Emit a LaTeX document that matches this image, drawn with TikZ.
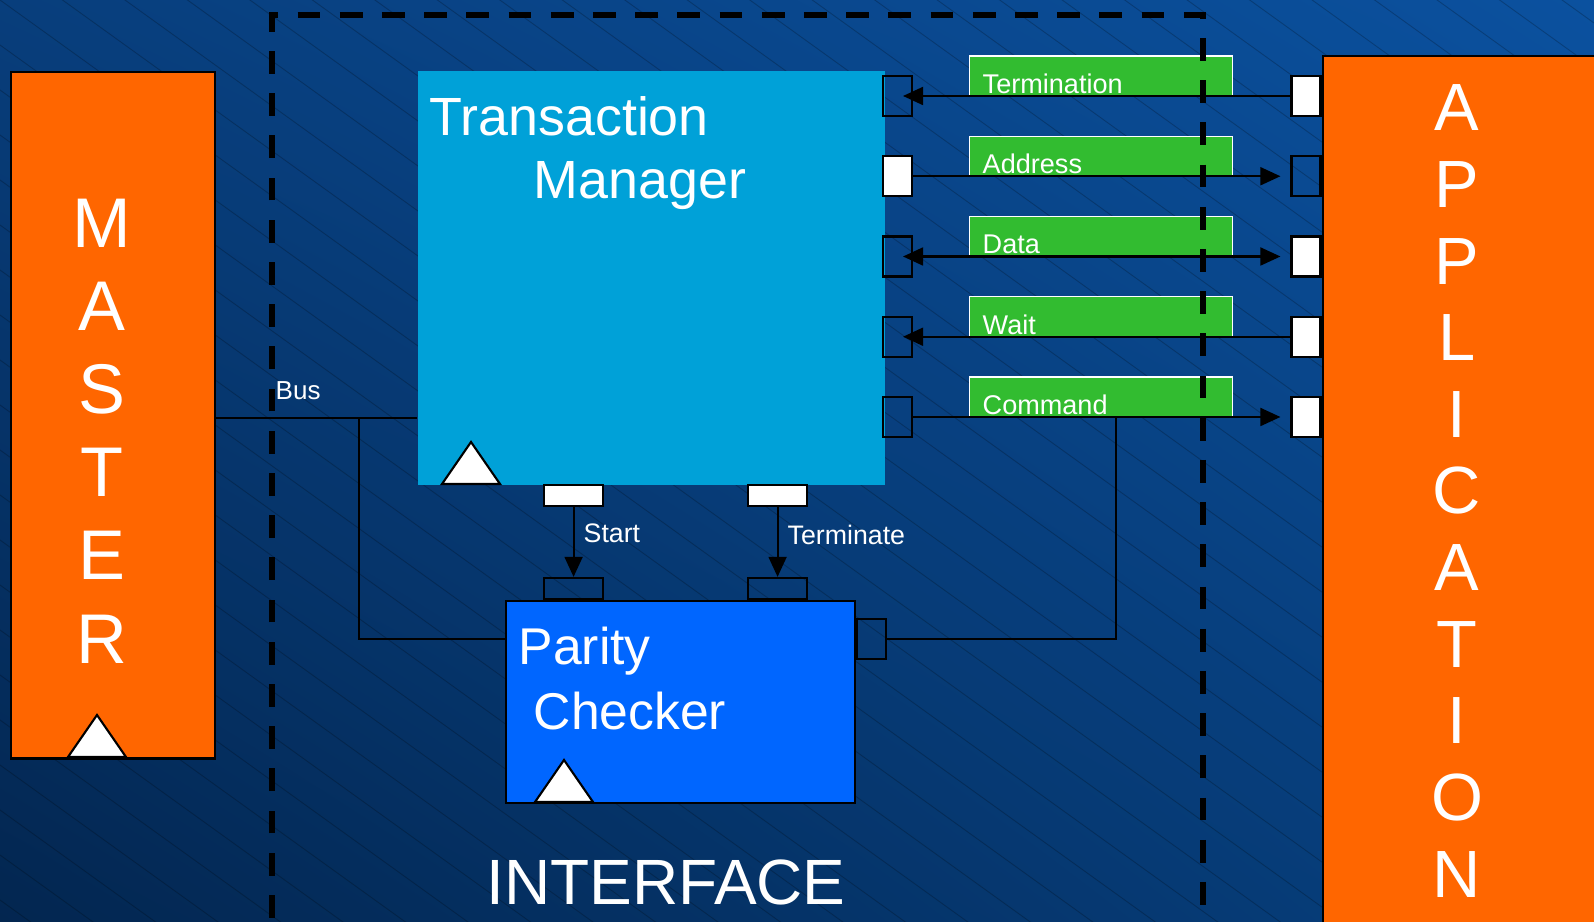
\documentclass[tikz,border=0pt]{standalone}
\usepackage{fontspec}
\setmainfont{Liberation Sans}
\usetikzlibrary{arrows.meta,positioning,shadings}
\definecolor{bgtl}{RGB}{8,62,124}
\definecolor{bgtr}{RGB}{11,81,159}
\definecolor{bgbl}{RGB}{3,38,80}
\definecolor{bgbr}{RGB}{7,64,127}
\definecolor{sideorange}{RGB}{255,102,0}
\definecolor{tmblue}{RGB}{0,161,216}
\definecolor{pcblue}{RGB}{0,102,255}
\definecolor{siggreen}{RGB}{50,188,48}
\tikzset{
  block/.style={inner sep=0pt, line width=0.6pt},
  port/.style={draw=black, line width=0.6pt, inner sep=0pt, minimum width=0.29cm, minimum height=0.40cm},
  hport/.style={port, minimum width=0.59cm, minimum height=0.21cm},
  siglabel/.style={fill=siggreen, draw=white, line width=0.3pt, inner sep=0pt, minimum width=2.62cm, minimum height=0.40cm},
  wtext/.style={text=white, inner sep=0pt},
  wire/.style={line width=0.6pt},
  sigarrow/.style={-{Triangle[length=5.7pt,width=5.1pt]}},
  tri/.style={fill=white, draw=black, line width=0.6pt},
  hatch/.style={black, opacity=0.22, line width=0.25pt},
  ifbox/.style={line width=1.7pt, dash pattern=on 6.5pt off 5.5pt}
}

\begin{document}
\begin{tikzpicture}[x=0.01cm, y=-0.01cm]
\useasboundingbox (0,0) rectangle (1594,922);
\clip (0,0) rectangle (1594,922);

% Background
\shade[upper left=bgtl, upper right=bgtr, lower left=bgbl, lower right=bgbr] (0cm,0cm) rectangle (15.94cm,-9.22cm);
\foreach \s in {-1170,-1125,...,930}
  \draw[hatch] (0,\s) -- (1594,\s+1148);

% Master
\node[block, draw=black, fill=sideorange, minimum width=2.04cm, minimum height=6.86cm, anchor=north west] (master) at (10,71) {};
\foreach \ch [count=\i from 0] in {M,A,S,T,E,R}
  \node[wtext, font=\fontsize{20}{24}\selectfont, anchor=base] (m\i) at (102,248+83*\i) {\ch};

% Application
\node[block, draw=black, fill=sideorange, minimum width=3.2cm, minimum height=9.2cm, anchor=north west] (app) at (1322,55) {};
\foreach \ch [count=\i from 0] in {A,P,P,L,I,C,A,T,I,O,N}
  \node[wtext, font=\fontsize{19}{23}\selectfont, anchor=base] (a\i) at (1457,131+76.6*\i) {\ch};

% Transaction manager
\node[block, fill=tmblue, minimum width=4.67cm, minimum height=4.14cm, anchor=north west] (tm) at (417,70) {};
\node[wtext, font=\fontsize{15.3}{18}\selectfont, anchor=base west] (tmtop) at (429,136) {Transaction};
\node[wtext, font=\fontsize{15.3}{18}\selectfont, anchor=base west] (tmbot) at (533,199) {Manager};

% Parity checker
\node[block, draw=black, fill=pcblue, minimum width=3.49cm, minimum height=2.02cm, anchor=north west] (pc) at (505,600) {};
\node[wtext, font=\fontsize{14.7}{17}\selectfont, anchor=base west] (pctop) at (518,665) {Parity};
\node[wtext, font=\fontsize{14.7}{17}\selectfont, anchor=base west] (pcbot) at (533,729) {Checker};

% Ports between the two blocks
\node[hport, fill=white, anchor=north west] (startout) at (543,484) {};
\node[hport, fill=white, anchor=north west] (termout) at (747,484) {};
\node[hport, anchor=south west] (startin) at (543,600) {};
\node[hport, anchor=south west] (termin) at (747,600) {};
\node[port, anchor=west] (pcport) at (pc.east |- 0,639) {};

% Signal rows
\foreach \nm/\lf/\rf/\txt [count=\i from 0] in {term/none/white/Termination, addr/white/none/Address, data/none/white/Data, wait/none/white/Wait, cmd/none/white/Command} {
  \node[port, fill=\lf] (\nm-l) at (897.5,96+80.25*\i) {};
  \node[port, fill=\rf] (\nm-r) at (1306,96+80.25*\i) {};
  \node[siglabel] (\nm-lab) at (1101,76+80.25*\i) {};
  \node[wtext, font=\fontsize{7.7}{9}\selectfont, anchor=base west] (\nm-txt) at (982,93.5+80.25*\i) {\txt};
}

% Interface boundary
\draw[ifbox] (272,960) -- (272,15) -- (1203,15) -- (1203,960);
\node[wtext, font=\fontsize{18.2}{22}\selectfont, anchor=base] (iftxt) at (666,904) {INTERFACE};

% Signal wires
\draw[wire, sigarrow, shorten >=0.55mm] (term-r.west) -- (term-l.center);
\draw[wire, sigarrow, shorten >=1mm] (addr-l.east) -- (addr-r.west);
\draw[wire, {Triangle[length=5.7pt,width=5.1pt]}-{Triangle[length=5.7pt,width=5.1pt]}, shorten <=0.55mm, shorten >=1mm] (data-l.center) -- (data-r.west);
\draw[wire, sigarrow, shorten >=0.55mm] (wait-r.west) -- (wait-l.center);
\draw[wire, sigarrow, shorten >=1mm] (cmd-l.east) -- (cmd-r.west);
\coordinate (cmdjoin) at (1116,417);
\draw[wire] (cmdjoin) |- (pcport.east);

% Bus
\coordinate (busjoin) at (359,418);
\draw[wire] (master.east |- busjoin) -- (busjoin -| tm.west);
\draw[wire] (busjoin) |- (pc.west |- pcport);
\node[wtext, font=\fontsize{7.4}{9}\selectfont, anchor=base west] (bustxt) at (275,400) {Bus};

% Start and terminate
\draw[wire, sigarrow] (startout) -- (startin);
\draw[wire, sigarrow] (termout) -- (termin);
\node[wtext, font=\fontsize{7.6}{9}\selectfont, anchor=base west] (starttxt) at (583,543) {Start};
\node[wtext, font=\fontsize{7.6}{9}\selectfont, anchor=base west] (termtxt) at (787,545) {Terminate};

% Clock triangles
\foreach \bx/\by in {68/757, 442/484, 535/802}
  \filldraw[tri] (\bx,\by) -- ++(29,-42) -- ++(29,42) -- cycle;
\end{tikzpicture}
\end{document}
